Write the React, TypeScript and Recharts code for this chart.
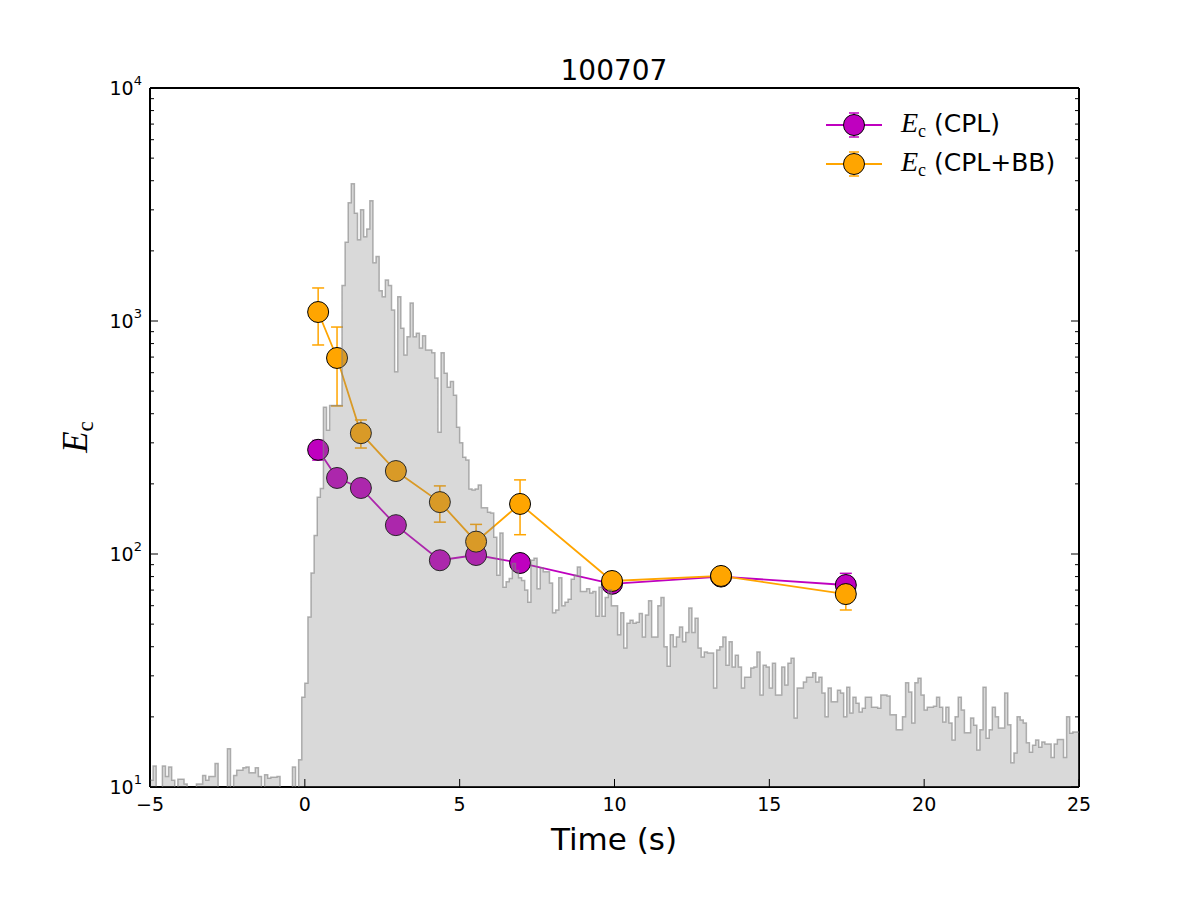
import React from 'react';
import { ComposedChart, Area, Line, XAxis, YAxis, ErrorBar, Legend, Customized } from 'recharts';

// ---- histogram (light curve) : 0.1 s bins starting at -5 s ----
const binStart = -5;
const binWidth = 0.1;
const histCounts: number[] = [
  10.7, 12.3, 9, 9, 12.3, 11.1, 12.2, 10.7, 9, 10.8,
  10.8, 10.3, 9, 9, 9, 10.3, 10.3, 11.2, 10.7, 11.1,
  11.1, 12.6, 9, 9, 9, 14.6, 9, 11.2, 11.8, 11.8,
  12.1, 12.2, 11.5, 11.5, 12.1, 11.1, 9, 11.3, 10.9, 11.0,
  11.0, 11.1, 9, 9, 9, 9, 12.2, 9, 13.1, 24.3,
  27.9, 53.6, 82.9, 120, 175, 191, 426, 340, 434, 434,
  434, 434, 1420, 2180, 3220, 3880, 2900, 2230, 3000, 2300,
  2480, 3280, 1780, 1890, 1350, 1270, 1500, 1420, 1114, 605,
  1270, 930, 715, 855, 1195, 855, 886, 765, 865, 750,
  750, 730, 570, 333, 730, 597, 520, 550, 480, 350,
  300, 260, 253, 190, 188, 190, 198, 158, 158, 151,
  150, 118, 81, 123, 72, 76, 78.5, 91, 85, 79,
  77, 70, 62, 94, 96, 71, 87, 84, 84, 75,
  56, 57.5, 79, 60, 62, 64, 78, 81, 88, 69,
  69, 71, 68, 69, 54, 72, 54, 65, 70, 60,
  60, 45, 56, 39.5, 50.5, 52, 50.5, 51, 55.5, 44,
  54.7, 63, 44, 44, 60, 65, 40, 33, 45, 40,
  44, 48.6, 42, 46, 58.6, 46, 53, 39.5, 36.1, 38,
  37.6, 37.6, 26.6, 38.7, 40, 44, 33.3, 42, 32.7, 36.8,
  32.7, 26.6, 29.6, 29.6, 32.4, 32.7, 38, 24.8, 33.3, 32.7,
  26.6, 34, 24.8, 24.8, 32.7, 27.4, 34, 35.7, 19.8, 26.6,
  26.6, 28.2, 29.6, 29.6, 30.9, 28.2, 29.6, 25.3, 20, 26.6,
  23.2, 23.2, 26, 25.3, 20, 26.8, 20.8, 24.3, 22.9, 21,
  21.8, 24.3, 24.3, 22, 22, 21.8, 24.8, 24.8, 24.6, 20.4,
  20.4, 17.6, 17.6, 20, 28, 25.6, 18.8, 28, 29.3, 24.8,
  21.4, 22, 22, 22.2, 24.3, 22, 19, 22, 18.8, 15.9,
  20, 24.3, 21.4, 17.1, 17.1, 19.8, 18.4, 14.4, 17.6, 26.8,
  16.2, 17.6, 22, 20, 17.9, 17.9, 25.3, 18.5, 12.7, 14.0,
  20, 19.4, 18.8, 15.5, 14.1, 15.1, 15.9, 14.8, 15.6, 15.3,
  15.3, 13.4, 15.3, 16, 16, 13.4, 20, 17, 17.2, 17.2,
];

// ---- Ec points ----
const times = [0.43, 1.04, 1.81, 2.94, 4.36, 5.53, 6.95, 9.92, 13.44, 17.47];
const ecCPL = [280, 212, 192, 133, 94, 99, 91.5, 74.5, 80, 73.6];
const ecCPLErrLow = [27, 15, 12, 8, 6, 6, 6, 5, 5, 8];
const ecCPLErrHigh = [27, 15, 12, 8, 6, 6, 6, 5, 5, 9];
const ecBB = [1093, 694, 330, 227, 167, 113, 164, 76.6, 80.5, 67.3];
const ecBBErrLow = [304, 262, 45, 15, 30, 15, 43, 5, 4, 9.8];
const ecBBErrHigh = [293, 248, 46, 15, 29, 21, 44, 5, 4, 8.5];

const xTicks = [-5, 0, 5, 10, 15, 20, 25];
const yMajorTicks = [10, 100, 1000, 10000];
const yMinorTicks = [20, 30, 40, 50, 60, 70, 80, 90, 200, 300, 400, 500, 600, 700, 800, 900, 2000, 3000, 4000, 5000, 6000, 7000, 8000, 9000];
const yAllTicks = [...yMajorTicks, ...yMinorTicks].sort((a, b) => a - b);

const titleText = '100707';
const xLabelText = 'Time (s)';
const legendLabels = ['(CPL)', '(CPL+BB)'];

const MAGENTA = '#bf00bf';
const ORANGE = '#ffa500';
const SANS = '"DejaVu Sans", sans-serif';
const SERIF = '"Liberation Serif", "DejaVu Serif", serif';

const histData = histCounts.map((c, i) => ({ t: +(binStart + i * binWidth).toFixed(3), h: c }));
histData.push({ t: +(binStart + histCounts.length * binWidth).toFixed(3), h: histCounts[histCounts.length - 1] });

const pointData = times.map((t, i) => ({
  t,
  cpl: ecCPL[i],
  cplErr: [ecCPLErrLow[i], ecCPLErrHigh[i]],
  bb: ecBB[i],
  bbErr: [ecBBErrLow[i], ecBBErrHigh[i]],
}));

const fmtX = (v: number) => (v < 0 ? '\u2212' + Math.abs(v) : String(v));

const XTickBottom = (props: any) => {
  const { x, y, payload } = props;
  return (
    <g>
      <line x1={x} x2={x} y1={y} y2={y - 8} stroke="#000" strokeWidth={1} />
      <text x={x} y={y + 24} textAnchor="middle" fontFamily={SANS} fontSize={19} fill="#000">
        {fmtX(payload.value)}
      </text>
    </g>
  );
};

const XTickTop = (props: any) => {
  const { x, y } = props;
  return <line x1={x} x2={x} y1={y} y2={y + 8} stroke="#000" strokeWidth={1} />;
};

const YTickLeft = (props: any) => {
  const { x, y, payload } = props;
  const v = payload.value;
  const major = yMajorTicks.includes(v);
  const exp = Math.round(Math.log10(v));
  return (
    <g>
      <line x1={x} x2={x + (major ? 8 : 4)} y1={y} y2={y} stroke="#000" strokeWidth={1} />
      {major && (
        <text x={x - 8} y={y + 7} textAnchor="end" fontFamily={SANS} fontSize={19} fill="#000">
          10
          <tspan dy={-10} fontSize={13}>{exp}</tspan>
        </text>
      )}
    </g>
  );
};

const YTickRight = (props: any) => {
  const { x, y, payload } = props;
  const major = yMajorTicks.includes(payload.value);
  return <line x1={x} x2={x - (major ? 8 : 4)} y1={y} y2={y} stroke="#000" strokeWidth={1} />;
};

const TextLayer = () => (
  <g>
    <text x={614} y={80} textAnchor="middle" fontFamily={SANS} fontSize={28} fill="#000">{titleText}</text>
    <text x={614} y={850} textAnchor="middle" fontFamily={SANS} fontSize={31} fill="#000">{xLabelText}</text>
    <text transform="rotate(-90, 87, 437)" x={87} y={437} textAnchor="middle" fill="#000">
      <tspan fontFamily={SERIF} fontStyle="italic" fontSize={35}>E</tspan>
      <tspan fontFamily={SERIF} fontSize={23} dy={6}>c</tspan>
    </text>
  </g>
);

const LegendIcon = ({ color }: { color: string }) => (
  <svg width={56} height={36} style={{ display: 'block', overflow: 'visible' }}>
    <line x1={0} x2={56} y1={18} y2={18} stroke={color} strokeWidth={1.8} />
    <line x1={28} x2={28} y1={6} y2={30} stroke={color} strokeWidth={1.5} />
    <line x1={23} x2={33} y1={6} y2={6} stroke={color} strokeWidth={1.5} />
    <line x1={23} x2={33} y1={30} y2={30} stroke={color} strokeWidth={1.5} />
    <circle cx={28} cy={18} r={10.5} fill={color} stroke="#000" strokeWidth={1} />
  </svg>
);

const renderLegend = () => (
  <div>
    {[MAGENTA, ORANGE].map((c, i) => (
      <div key={i} style={{ display: 'flex', alignItems: 'center', height: 39 }}>
        <LegendIcon color={c} />
        <span style={{ marginLeft: 19, fontFamily: SANS, fontSize: 25, color: '#000', whiteSpace: 'nowrap', lineHeight: '30px' }}>
          <span style={{ fontFamily: SERIF, fontStyle: 'italic', fontSize: 28 }}>E</span>
          <span style={{ fontFamily: SERIF, fontSize: 18, position: 'relative', top: 5 }}>c</span>
          {' ' + legendLabels[i]}
        </span>
      </div>
    ))}
  </div>
);

export default function App() {
  return (
    <div style={{ position: 'absolute', left: 0, top: 0, width: 1200, height: 900, background: '#fff' }}>
      <ComposedChart width={1200} height={900} margin={{ top: 78, right: 111, bottom: 83, left: 90 }}>
        <XAxis
          dataKey="t"
          type="number"
          domain={[-5, 25]}
          ticks={xTicks}
          interval={0}
          allowDataOverflow
          height={30}
          tickSize={0}
          tickMargin={0}
          tickLine={false}
          tick={<XTickBottom />}
          axisLine={{ stroke: '#000', strokeWidth: 2 }}
        />
        <XAxis
          xAxisId="top"
          orientation="top"
          type="number"
          domain={[-5, 25]}
          ticks={xTicks}
          interval={0}
          allowDataOverflow
          height={10}
          tickSize={0}
          tickMargin={0}
          tickLine={false}
          tick={<XTickTop />}
          axisLine={{ stroke: '#000', strokeWidth: 2 }}
        />
        <YAxis
          type="number"
          scale="log"
          domain={[10, 10000]}
          ticks={yAllTicks}
          interval={0}
          allowDataOverflow
          width={60}
          tickSize={0}
          tickMargin={0}
          tickLine={false}
          tick={<YTickLeft />}
          axisLine={{ stroke: '#000', strokeWidth: 2 }}
        />
        <YAxis
          yAxisId="right"
          orientation="right"
          type="number"
          scale="log"
          domain={[10, 10000]}
          ticks={yAllTicks}
          interval={0}
          allowDataOverflow
          width={10}
          tickSize={0}
          tickMargin={0}
          tickLine={false}
          tick={<YTickRight />}
          axisLine={{ stroke: '#000', strokeWidth: 2 }}
        />
        <Line
          data={pointData}
          dataKey="cpl"
          stroke={MAGENTA}
          strokeWidth={1.8}
          dot={{ r: 10.5, fill: MAGENTA, stroke: '#000', strokeWidth: 1, fillOpacity: 1 }}
          activeDot={false}
          isAnimationActive={false}
        >
          <ErrorBar dataKey="cplErr" direction="y" width={6} stroke={MAGENTA} strokeWidth={1.5} />
        </Line>
        <Line
          data={pointData}
          dataKey="bb"
          stroke={ORANGE}
          strokeWidth={1.8}
          dot={{ r: 10.5, fill: ORANGE, stroke: '#000', strokeWidth: 1, fillOpacity: 1 }}
          activeDot={false}
          isAnimationActive={false}
        >
          <ErrorBar dataKey="bbErr" direction="y" width={6} stroke={ORANGE} strokeWidth={1.5} />
        </Line>
        <Area
          data={histData}
          dataKey="h"
          type="stepAfter"
          baseValue={10}
          fill="#808080"
          fillOpacity={0.3}
          stroke="#808080"
          strokeOpacity={0.6}
          strokeWidth={1.5}
          dot={false}
          activeDot={false}
          isAnimationActive={false}
          {...({ zIndex: 1000 } as any)}
        />
        <Legend
          layout="horizontal"
          verticalAlign="middle"
          align="center"
          content={renderLegend}
          wrapperStyle={{ left: 826, top: 105, width: 320, height: 80 }}
        />
        <Customized component={TextLayer} />
      </ComposedChart>
    </div>
  );
}
